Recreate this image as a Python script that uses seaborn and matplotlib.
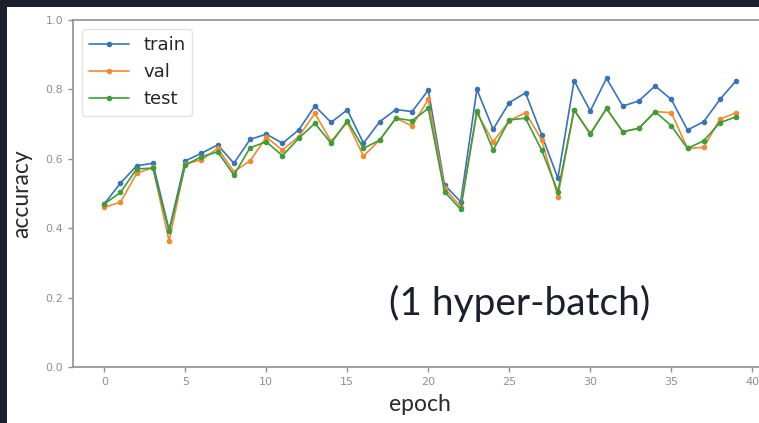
import pandas as pd
import matplotlib.pyplot as plt
import matplotlib.patches as mpatches
import seaborn as sns

epochs = list(range(40))
train_acc = [0.47, 0.53, 0.58, 0.587, 0.395, 0.594, 0.616, 0.64, 0.587, 0.656,
             0.671, 0.645, 0.683, 0.752, 0.705, 0.741, 0.645, 0.707, 0.742, 0.736,
             0.798, 0.525, 0.476, 0.80, 0.685, 0.762, 0.79, 0.669, 0.544, 0.825,
             0.738, 0.832, 0.752, 0.767, 0.81, 0.771, 0.683, 0.707, 0.771, 0.825]
val_acc = [0.46, 0.475, 0.558, 0.575, 0.363, 0.585, 0.597, 0.63, 0.563, 0.594,
           0.662, 0.625, 0.664, 0.731, 0.65, 0.705, 0.608, 0.654, 0.717, 0.695,
           0.771, 0.515, 0.462, 0.733, 0.649, 0.71, 0.733, 0.654, 0.491, 0.741,
           0.673, 0.745, 0.678, 0.688, 0.736, 0.733, 0.63, 0.633, 0.714, 0.733]
test_acc = [0.47, 0.503, 0.571, 0.573, 0.392, 0.582, 0.606, 0.62, 0.553, 0.632,
            0.649, 0.609, 0.659, 0.702, 0.645, 0.71, 0.63, 0.654, 0.717, 0.71,
            0.745, 0.505, 0.454, 0.739, 0.625, 0.712, 0.717, 0.625, 0.505, 0.741,
            0.671, 0.745, 0.678, 0.688, 0.736, 0.695, 0.63, 0.652, 0.704, 0.721]
splits = ["train", "val", "test"]
colors = ["#3873b8", "#f28a2e", "#3a9e3a"]

df = pd.DataFrame({
    "epoch": epochs * 3,
    "accuracy": train_acc + val_acc + test_acc,
    "split": [s for s in splits for _ in epochs],
})

sns.set_style("white")
dark = "#1b202d"
grey = "#909090"

fig = plt.figure(figsize=(7.59, 4.23), dpi=100)
fig.patch.set_facecolor(dark)
# white slide area (screenshot crop)
fig.patches.append(mpatches.Rectangle((7 / 759, 0), 752 / 759, 416 / 423,
                                      transform=fig.transFigure, facecolor="white",
                                      edgecolor="none", zorder=-5))

ax = fig.add_axes([72.7 / 759, 56 / 423, 695 / 759, 347 / 423])
ax.set_zorder(1)
sns.lineplot(data=df, x="epoch", y="accuracy", hue="split", hue_order=splits,
             palette=colors, marker="o", markersize=4, markeredgewidth=0,
             linewidth=1.2, ax=ax)

ax.set_ylim(0, 1.0)
ax.set_yticks([0.0, 0.2, 0.4, 0.6, 0.8, 1.0])
ax.set_xticks(range(0, 41, 5))
ax.tick_params(axis="both", labelsize=8, colors=grey, length=3.5, width=1, direction="out")
ax.tick_params(left=True, bottom=True)
for sp in ax.spines.values():
    sp.set_color(grey)
    sp.set_linewidth(1.2)

ax.set_xlabel("epoch", fontsize=16.5, family="Lato", color="#2a2a2a", labelpad=5)
ax.set_ylabel("accuracy", fontsize=16.5, family="Lato", color="#2a2a2a", labelpad=9)

handles, labels = ax.get_legend_handles_labels()
ax.legend(handles, labels, loc="upper left", fontsize=13, frameon=True,
          handlelength=2.2, labelspacing=0.5, edgecolor="#dddddd")

fig.text(520 / 759, 1 - 303 / 423, "(1 hyper-batch)", fontsize=28, family="Lato",
         color=dark, ha="center", va="center", zorder=5)

fig.savefig("out.png", dpi=100, facecolor=fig.get_facecolor())
